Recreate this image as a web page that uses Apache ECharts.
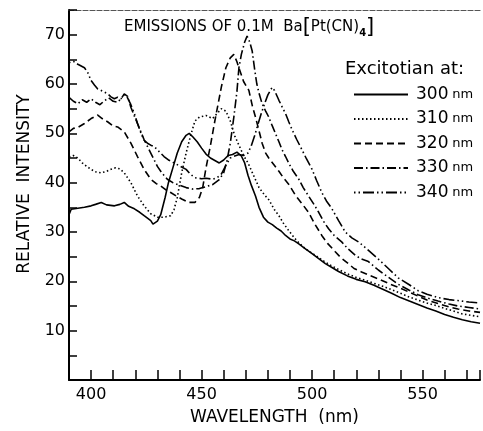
<!DOCTYPE html>
<html>
<head>
<meta charset="utf-8">
<script src="https://cdn.jsdelivr.net/npm/echarts@6/dist/echarts.min.js"></script>
<style>
  html, body { margin: 0; padding: 0; background: #fff; }
  #chart { width: 483px; height: 431px; }
</style>
</head>
<body>
<div id="chart"></div>
<script>
// emission spectra, [wavelength nm, relative intensity]
var FONT = 'DejaVu Sans'
var seriesNames = ['300 nm', '310 nm', '320 nm', '330 nm', '340 nm']
var xTickLabels = [400, 450, 500, 550]
var yTickLabels = [10, 20, 30, 40, 50, 60, 70]

var ex300 = [[390,33.5],[391,34.6],[394,34.8],[397,35],[400,35.3],[402,35.6],[404.6,36],[407,35.5],[410.6,35.3],[413,35.6],[415,36],[417,35.2],[419.6,34.7],[422,34],[424,33.3],[427,32.3],[428,31.6],[430,32.2],[431.5,33.5],[433.5,37],[435,40],[437,43],[439,46],[441,48.3],[443,49.6],[444.4,50],[446,49.3],[448,48.3],[450,47],[452,45.8],[454,45],[456,44.5],[458,44],[460,44.6],[462,45.5],[464,45.7],[466,46.2],[468,45.4],[469.5,44],[471,41.5],[472.5,39.5],[474.4,37.3],[476,35],[478,33],[480,32],[482,31.5],[484,30.8],[486,30.2],[488,29.3],[490,28.6],[492,28.2],[494,27.6],[497,26.6],[500,25.6],[503,24.6],[506,23.6],[509,22.8],[512,22],[516,21.1],[520,20.4],[524,19.9],[528,19.2],[532,18.4],[536,17.6],[540,16.7],[544,16],[548,15.3],[552,14.6],[556,14],[560,13.3],[564,12.7],[568,12.2],[572,11.8],[576,11.5]]

var ex310 = [[390,45.2],[392,45.5],[394,45],[396,44],[398,43.3],[400,42.7],[402,42.2],[404.6,42],[407,42.3],[409,42.7],[411,43],[413,42.8],[415,42],[418,40],[421,37.3],[424,35.3],[427,33.7],[430,33],[433,33],[436,33.3],[437.5,34.5],[439,37],[441,42],[443,46],[445,49.5],[447,52.5],[449,53.3],[452,53.6],[455,53],[457,54],[459,55],[461,54.5],[463,52.5],[465,49.5],[467,47.5],[469,45.5],[471,44],[473,42],[476,39],[478.5,37.5],[480.5,36.5],[483,34.5],[485,33.3],[487,31.8],[489.4,30.3],[492,28.8],[494,27.8],[497,26.6],[500,25.7],[503,24.8],[506,23.9],[509,23.1],[512,22.4],[516,21.5],[520,20.8],[524,20.2],[528,19.6],[532,19],[536,18.3],[540,17.6],[544,16.8],[548,16.2],[552,15.6],[556,15.1],[560,14.5],[564,14],[568,13.4],[572,13.1],[576,12.8]]

var ex320 = [[390,50.3],[392,51],[394,51.2],[397,52],[400,53],[403,53.7],[405,53],[407.6,52.3],[410,51.5],[412,51.3],[415,50.3],[418,48],[421,45.3],[424,42.7],[427,40.7],[429.5,39.8],[431.6,39.3],[434,38.5],[436,38],[438.5,37.3],[441,36.7],[444,36],[447,36],[449,37],[450.5,39],[452,43],[454,47.5],[456,52.5],[457.5,56],[459,59.5],[461,63.3],[463,65.3],[464.6,66],[466,64.5],[467.5,62.5],[469,60.5],[471.4,58.7],[473,55.5],[474.4,53.3],[476,50.5],[477.4,48],[479,46],[480.4,45],[483,43.5],[485,42.3],[487,41],[489.4,39.7],[492.4,37.5],[495,36],[498.4,34],[501,31.8],[504.4,29.3],[507,27.7],[510.5,26],[513,24.8],[516.4,23.6],[519,22.6],[522.4,21.9],[526,21.2],[530,20.5],[535,19.5],[539,18.8],[544,17.8],[548,17],[552,16.2],[557,15.5],[562,14.8],[566,14.4],[571,14],[576,13.7]]

var ex330 = [[390,57.3],[392,56.5],[394,56],[396,56.8],[398,56.3],[400,57],[402,56.3],[404,55.8],[406,56.6],[408,57.2],[410,56.5],[412,56.3],[414,57.3],[415,58],[416.5,57.5],[418,55.3],[419.5,53.6],[421,52],[424,48.7],[427,46],[430,43.3],[432,42],[434.5,40.7],[437,40],[440,39.5],[443,39],[446,38.7],[449,38.8],[452,39.2],[455,39.6],[458,40.6],[460,42],[461.5,44.5],[463,48],[464.6,53.3],[466,58.5],[466.9,63.3],[468,66],[469.5,68.5],[470.6,69.7],[471.8,68.5],[472.9,66.7],[474,63],[475,60],[476.2,57.8],[477.4,56],[479,54.5],[480.4,53.3],[482,51.5],[483.4,50],[485,48.3],[486.4,46.7],[488,45.3],[489.4,44],[491.5,42.3],[494,40.7],[496,39],[498.4,37.3],[501,35.5],[503,34],[505,32.3],[507.4,30.7],[510,29.3],[513.4,28],[516,26.7],[519.5,25.3],[522,24.6],[525.5,24],[530,22.3],[534,21],[539,19.4],[544,18.2],[548,17.3],[553,16.5],[557,16],[562,15.4],[566,15],[571,14.7],[576,14.4]]

var ex340 = [[390,64.3],[392,64.6],[394,64],[397,63.3],[398.5,62.3],[400,60.7],[401.5,59.8],[403,59],[405,58.6],[407.5,58],[409,57.4],[410.5,57],[412,57.3],[413.5,57],[415,57.8],[416.5,57.2],[418,55.8],[419.6,54],[421,52],[422.6,50],[424,48.6],[425.5,48],[427,47.6],[428.6,47.3],[431,46.2],[433,45.3],[435,44.6],[437.6,44],[440,43.4],[443,42.7],[445,41.7],[447,41],[450,40.8],[452,40.9],[455,40.7],[457,41],[459,41.8],[461,43.5],[463,45],[465,45.4],[467,45.7],[469,45.5],[471,46],[472.5,47.5],[474,49.5],[475.5,51.8],[477,54],[478.5,56],[480,57.8],[481.9,59.3],[483,58.7],[485,56.7],[486.5,55.3],[488,54],[489.5,52.3],[491,50.7],[493,48.8],[495.4,46.7],[497.5,44.8],[500,42.7],[502,40.5],[504.4,38],[506.5,36.3],[509,34.7],[512,32.3],[515,30],[518,28.8],[521,28],[525,26.5],[530,24.5],[535,22.4],[539,20.7],[544,19.3],[548,18.1],[552,17.4],[557,16.7],[562,16.3],[566,16.1],[571,15.8],[576,15.6]]

var seriesData = [ex300, ex310, ex320, ex330, ex340]
// solid, dotted, dashed, dash-dot, dot-dot-dash
var dashes = ['solid', [1.5, 2.5], [7, 4], [9, 3, 1.5, 3], [1.5, 3, 1.5, 3, 11, 3]]

var chart = echarts.init(document.getElementById('chart'), null, { renderer: 'canvas' })

var series = seriesNames.map(function (name, i) {
  return {
    name: name,
    type: 'line',
    data: seriesData[i],
    symbol: 'none',
    animation: false,
    itemStyle: { color: '#000' },
    lineStyle: { color: '#000', width: 1.6, type: dashes[i] }
  }
})

var option = {
  backgroundColor: '#fff',
  textStyle: { fontFamily: FONT, color: '#000' },
  title: [
    {
      text: '{t|EMISSIONS OF 0.1M  Ba}{b|[}{t|Pt(CN)}{s|4}{b|]}',
      left: 119,
      top: 12,
      textStyle: {
        fontWeight: 'normal',
        rich: {
          t: { fontFamily: FONT, fontSize: 15, fontWeight: 'normal', color: '#000' },
          b: { fontFamily: FONT, fontSize: 21, fontWeight: 'normal', color: '#000' },
          s: { fontFamily: FONT, fontSize: 10, color: '#000', fontWeight: 'bold', verticalAlign: 'bottom', padding: [8, 0, 0, 0] }
        }
      }
    },
    {
      text: 'Excitotian at:',
      left: 340,
      top: 55,
      textStyle: { fontFamily: FONT, fontSize: 18, fontWeight: 'normal', color: '#000' }
    }
  ],
  legend: {
    orient: 'vertical',
    left: 348,
    top: 81,
    itemWidth: 54,
    itemHeight: 14,
    itemGap: 7.5,
    data: seriesNames,
    itemStyle: { opacity: 0 },
    formatter: function (name) {
      var p = name.split(' ')
      return '{n|' + p[0] + '} {u|' + p[1] + '}'
    },
    textStyle: {
      color: '#000',
      rich: {
        n: { fontFamily: FONT, fontSize: 17, lineHeight: 14, color: '#000', padding: [0, 0, 0, 3] },
        u: { fontFamily: FONT, fontSize: 13, lineHeight: 14, color: '#000' }
      }
    }
  },
  grid: { left: 69, right: 2, top: 10, bottom: 45 },
  xAxis: [
    {
      type: 'value',
      min: 390,
      max: 576,
      interval: 10,
      name: 'WAVELENGTH  (nm)',
      nameLocation: 'middle',
      nameGap: 29,
      nameTextStyle: { fontFamily: FONT, fontSize: 17, color: '#000' },
      axisLine: { lineStyle: { color: '#000', width: 2 } },
      axisTick: { inside: true, length: 10, lineStyle: { color: '#000', width: 1.5 } },
      axisLabel: {
        color: '#000', fontFamily: FONT, fontSize: 16, margin: 7,
        formatter: function (v) { return xTickLabels.indexOf(v) >= 0 ? String(v) : '' }
      },
      splitLine: { show: false }
    },
    {
      type: 'value',
      position: 'top',
      min: 390,
      max: 576,
      axisLine: { show: true, lineStyle: { color: '#555', width: 1.2, type: [5, 2] } },
      axisTick: { show: false },
      axisLabel: { show: false },
      splitLine: { show: false }
    }
  ],
  yAxis: {
    type: 'value',
    min: 0,
    max: 75,
    interval: 5,
    name: 'RELATIVE  INTENSITY',
    nameLocation: 'middle',
    nameRotate: 90,
    nameGap: 36,
    nameTextStyle: { fontFamily: FONT, fontSize: 17, color: '#000', padding: [0, 0, 0, 22] },
    axisLine: { show: true, lineStyle: { color: '#000', width: 2 } },
    axisTick: { show: true, inside: true, length: 8, lineStyle: { color: '#000', width: 1.5 } },
    axisLabel: {
      color: '#000', fontFamily: FONT, fontSize: 16, margin: 4,
      formatter: function (v) { return yTickLabels.indexOf(v) >= 0 ? String(v) : '' }
    },
    splitLine: { show: false }
  },
  series: series
}

chart.setOption(option)
</script>
</body>
</html>
